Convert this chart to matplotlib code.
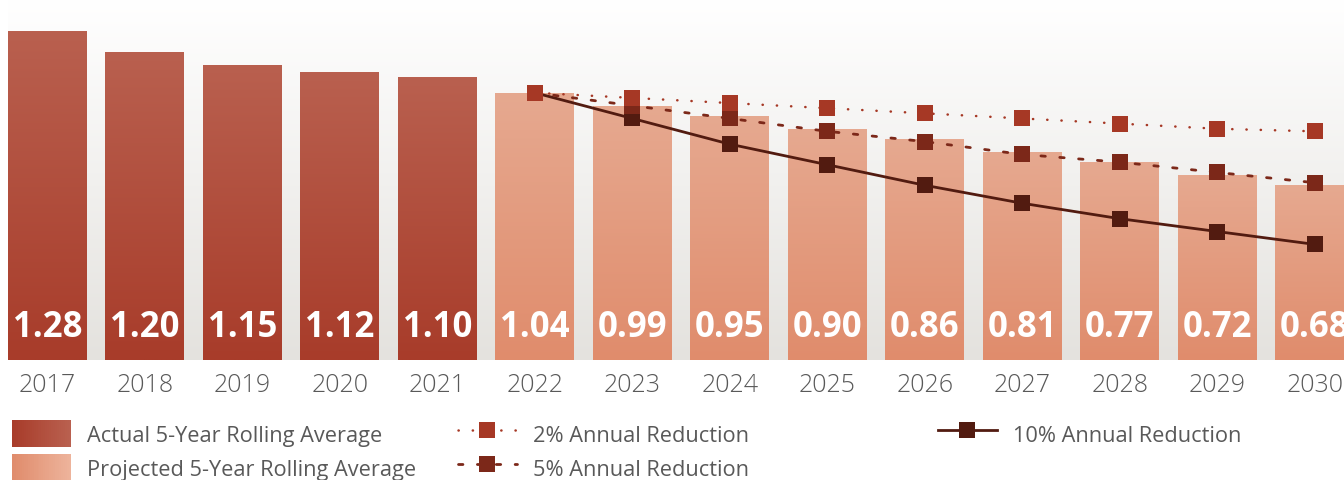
import numpy as np
import matplotlib
matplotlib.use("Agg")
import matplotlib.pyplot as plt
from matplotlib.colors import LinearSegmentedColormap, to_rgb
from matplotlib.patches import Rectangle
from matplotlib.legend_handler import HandlerPatch

# data
years = ["2017", "2018", "2019", "2020", "2021", "2022", "2023",
         "2024", "2025", "2026", "2027", "2028", "2029", "2030"]
actual = [1.28, 1.20, 1.15, 1.12, 1.10]
projected = [1.04, 0.99, 0.95, 0.90, 0.86, 0.81, 0.77, 0.72, 0.68]
line_years = ["2022", "2023", "2024", "2025", "2026", "2027", "2028", "2029", "2030"]
red_2 = [1.04, 1.02, 1.00, 0.98, 0.96, 0.94, 0.92, 0.90, 0.89]
red_5 = [1.04, 0.99, 0.94, 0.89, 0.85, 0.80, 0.77, 0.73, 0.69]
red_10 = [1.04, 0.94, 0.84, 0.76, 0.68, 0.61, 0.55, 0.50, 0.45]

plt.rcParams['font.family'] = ['Open Sans', 'DejaVu Sans']
grey = '#595959'

fig = plt.figure(figsize=(13.44, 4.81), dpi=100)
ax = fig.add_axes([8 / 1344, 1 - 361 / 481, 1 - 8 / 1344, 361 / 481])

# background gradient
bg = LinearSegmentedColormap.from_list('bg', ['#e4e2de', '#ffffff'])
ax.imshow(np.linspace(0, 1, 256).reshape(-1, 1), cmap=bg, origin='lower',
          extent=[0, 1, 0, 1], transform=ax.transAxes, aspect='auto', zorder=0)

values = actual + projected
x = np.arange(len(years))
width = 0.81
act_cmap = LinearSegmentedColormap.from_list('act', ['#a83c2a', '#b9604f'])
pro_cmap = LinearSegmentedColormap.from_list('pro', ['#e08c6c', '#e6a990'])
grad = np.linspace(0, 1, 128).reshape(-1, 1)
bars = ax.bar(x, values, width=width, color='none', zorder=1)
for i, (b, v) in enumerate(zip(bars, values)):
    cm = act_cmap if i < len(actual) else pro_cmap
    im = ax.imshow(grad, cmap=cm, origin='lower', aspect='auto',
                   extent=[b.get_x(), b.get_x() + width, 0, v], zorder=1)
    im.set_clip_path(b)
    ax.text(x[i], 0.13, f"{v:.2f}", ha='center', va='center', color='white',
            fontsize=25, fontweight='bold', zorder=5)

# reduction lines
lx = [years.index(y) for y in line_years]
l10, = ax.plot(lx, red_10, color='#521b10', lw=2.0, marker='s', ms=12,
               mew=0, zorder=3)
l5, = ax.plot(lx, red_5, color='#7c2819', lw=2.0, linestyle=(0, (1.6, 5.2)),
              dash_capstyle='round', marker='s', ms=12, mew=0, zorder=3)
l2, = ax.plot(lx, red_2, color='#a63825', lw=1.8, linestyle=(0, (0.1, 5.6)),
              dash_capstyle='round', marker='s', ms=12, mew=0, zorder=3)

ax.set_xlim(-0.405, 13.3)
ax.set_ylim(0, 1.405)
ax.set_xticks(x)
ax.set_xticklabels(years, fontsize=18, color=grey, fontweight='light')
ax.tick_params(axis='x', length=0, pad=9)
ax.set_yticks([])
for s in ax.spines.values():
    s.set_visible(False)


class GradientHandler(HandlerPatch):
    def __init__(self, c1, c2, n=30):
        super().__init__()
        self.c1, self.c2, self.n = np.array(to_rgb(c1)), np.array(to_rgb(c2)), n

    def create_artists(self, legend, orig_handle, xdescent, ydescent,
                       width, height, fontsize, trans):
        arts = []
        w = width / self.n
        for k in range(self.n):
            t = k / (self.n - 1)
            c = self.c1 * (1 - t) + self.c2 * t
            r = Rectangle((-xdescent + k * w, -ydescent), w * 1.05, height,
                          facecolor=c, edgecolor='none', transform=trans)
            arts.append(r)
        return arts


pa = Rectangle((0, 0), 1, 1)
pp = Rectangle((0, 0), 1, 1)
leg_kw = dict(frameon=False, fontsize=15.7, labelcolor=grey, handlelength=2.7,
              handleheight=1.55, handletextpad=0.75, labelspacing=0.3,
              borderaxespad=0, borderpad=0)
top = 1 - 421 / 481
leg1 = fig.legend([pa, pp], ['Actual 5-Year Rolling Average',
                             'Projected 5-Year Rolling Average'],
                  loc='upper left', bbox_to_anchor=(12 / 1344, top),
                  handler_map={pa: GradientHandler('#a83c2a', '#b9604f'),
                               pp: GradientHandler('#e08c6c', '#edb39b')},
                  **leg_kw)
leg2 = fig.legend([l2, l5], ['2% Annual Reduction', '5% Annual Reduction'],
                  loc='upper left', bbox_to_anchor=(458 / 1344, top),
                  **leg_kw)
leg3 = fig.legend([l10], ['10% Annual Reduction'],
                  loc='upper left', bbox_to_anchor=(938 / 1344, top),
                  **leg_kw)

fig.savefig('out.png', dpi=100)
